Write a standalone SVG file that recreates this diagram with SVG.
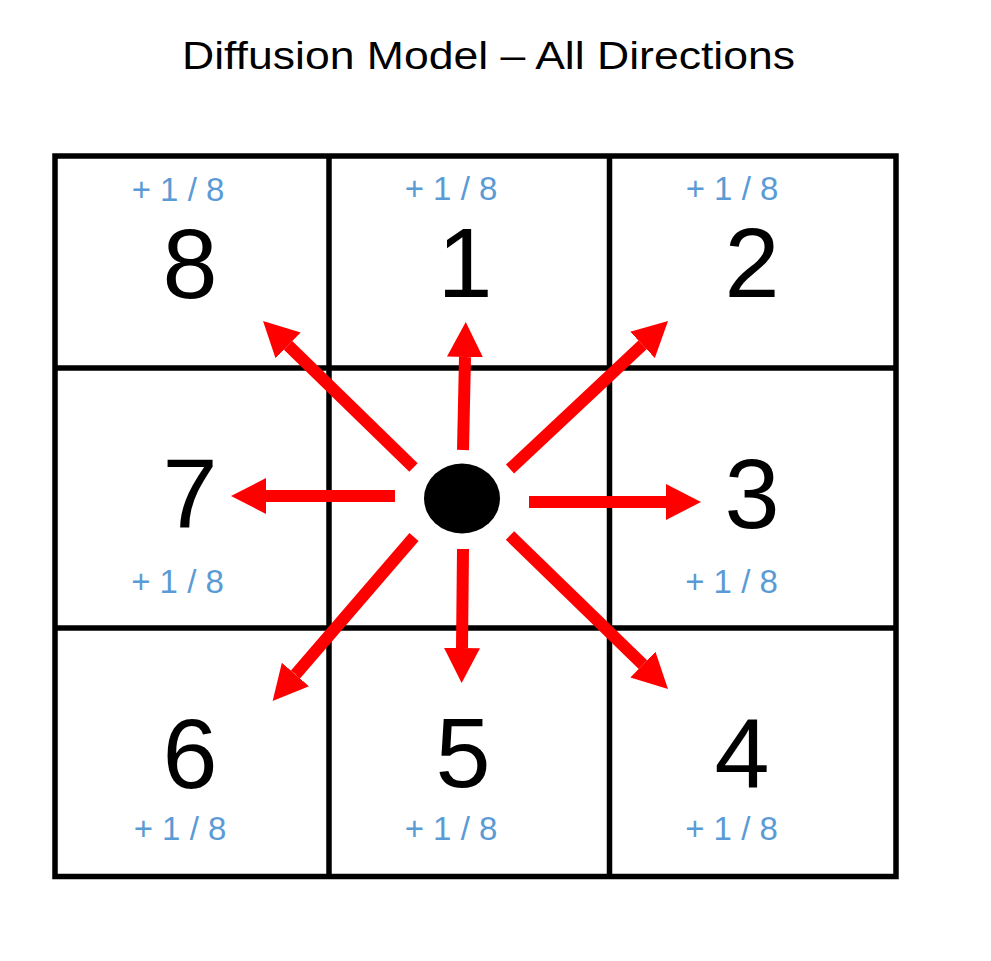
<svg xmlns="http://www.w3.org/2000/svg" width="991" height="961" viewBox="0 0 991 961">
<style>
.grid{fill:none;stroke:#000;stroke-width:5.5}
.num{font-family:"Liberation Sans",Arial,sans-serif;font-size:99px;fill:#000;text-anchor:middle}
.frac{font-family:"Liberation Sans",Arial,sans-serif;font-size:33px;fill:#5B9BD5;text-anchor:middle}
.title{font-family:"Liberation Sans",Arial,sans-serif;font-size:38px;fill:#000;text-anchor:middle}
.arr{stroke:#FF0000;stroke-width:12;fill:none;marker-end:url(#head)}
</style>
<defs>
<marker id="head" markerUnits="userSpaceOnUse" markerWidth="35" markerHeight="36" viewBox="0 0 35 36" refX="0" refY="18" orient="auto">
<path d="M0,0 L35,18 L0,36 z" fill="#FF0000"/>
</marker>
</defs>
<rect width="991" height="961" fill="#fff"/>
<text class="title" x="488.5" y="69" textLength="613" lengthAdjust="spacingAndGlyphs">Diffusion Model – All Directions</text>
<g id="grid">
<rect class="grid" x="55" y="156" width="841" height="720.5"/>
<line class="grid" x1="329" y1="156" x2="329" y2="876.5"/>
<line class="grid" x1="609.5" y1="156" x2="609.5" y2="876.5"/>
<line class="grid" x1="55" y1="368" x2="896" y2="368"/>
<line class="grid" x1="55" y1="628" x2="896" y2="628"/>
</g>
<g id="cell8"><text class="frac" x="178" y="201">+ 1 / 8</text><text class="num" x="190" y="298">8</text></g>
<g id="cell1"><text class="frac" x="451" y="200">+ 1 / 8</text><text class="num" x="465" y="297">1</text></g>
<g id="cell2"><text class="frac" x="732" y="200">+ 1 / 8</text><text class="num" x="752" y="297">2</text></g>
<g id="cell7"><text class="num" x="190" y="527">7</text><text class="frac" x="177.5" y="593">+ 1 / 8</text></g>
<g id="cell3"><text class="num" x="752" y="528">3</text><text class="frac" x="731.5" y="593">+ 1 / 8</text></g>
<g id="cell6"><text class="num" x="190" y="788">6</text><text class="frac" x="180" y="840">+ 1 / 8</text></g>
<g id="cell5"><text class="num" x="463" y="787">5</text><text class="frac" x="451" y="840">+ 1 / 8</text></g>
<g id="cell4"><text class="num" x="742" y="787">4</text><text class="frac" x="731.5" y="840">+ 1 / 8</text></g>
<g id="center"><ellipse cx="462" cy="498.5" rx="38" ry="35" fill="#000"/></g>
<g id="connectors">
<line class="arr" x1="463" y1="450" x2="465" y2="357"/>
<line class="arr" x1="510" y1="469" x2="642.5" y2="344.9"/>
<line class="arr" x1="529" y1="502" x2="666" y2="502"/>
<line class="arr" x1="510" y1="535.5" x2="642.9" y2="664.6"/>
<line class="arr" x1="463" y1="549" x2="462" y2="648"/>
<line class="arr" x1="414" y1="537" x2="295.5" y2="674.5"/>
<line class="arr" x1="395" y1="496" x2="266" y2="496"/>
<line class="arr" x1="413.5" y1="467.5" x2="288.1" y2="345.4"/>
</g>
</svg>
